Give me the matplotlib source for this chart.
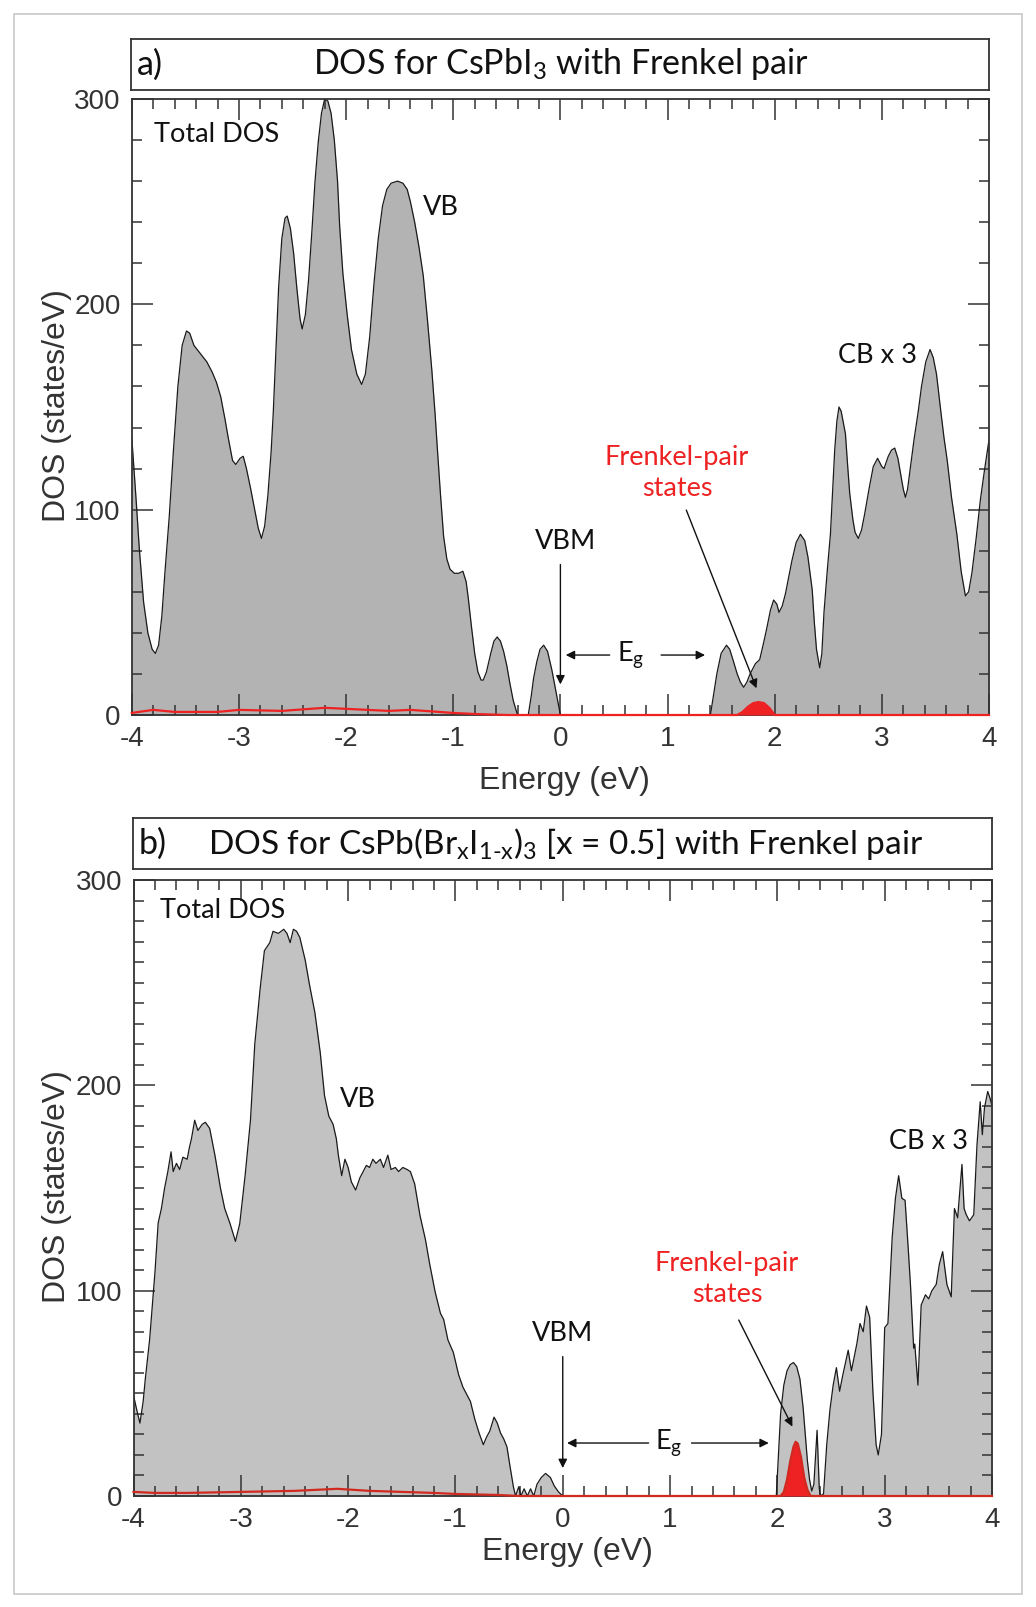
import matplotlib
matplotlib.use("Agg")
import matplotlib.pyplot as plt
from matplotlib.patches import Rectangle
from matplotlib.ticker import MultipleLocator
import numpy as np

# ---------------- data ----------------
energy_a = [-4.00, -3.96, -3.93, -3.89, -3.85, -3.81, -3.78, -3.75, -3.72, -3.69, -3.65, -3.61, -3.57, -3.53,
            -3.49, -3.46, -3.42, -3.36, -3.30, -3.25, -3.21, -3.17, -3.13, -3.10, -3.06, -3.03, -2.99, -2.96,
            -2.93, -2.89, -2.85, -2.82, -2.79, -2.76, -2.73, -2.70, -2.68, -2.655, -2.63, -2.60, -2.57, -2.55,
            -2.52, -2.49, -2.46, -2.43, -2.41, -2.38, -2.35, -2.32, -2.29, -2.26, -2.23, -2.20, -2.17, -2.14,
            -2.11, -2.08, -2.06, -2.03, -1.99, -1.95, -1.90, -1.855, -1.82, -1.78, -1.74, -1.70, -1.66, -1.62,
            -1.58, -1.52, -1.47, -1.43, -1.40, -1.36, -1.32, -1.28, -1.24, -1.20, -1.17, -1.15, -1.12, -1.09,
            -1.06, -1.03, -0.99, -0.95, -0.91, -0.88, -0.86, -0.83, -0.80, -0.77, -0.74, -0.72, -0.69, -0.65,
            -0.62, -0.59, -0.56, -0.53, -0.50, -0.47, -0.44, -0.40, -0.30, -0.27, -0.25, -0.22, -0.19, -0.156,
            -0.12, -0.08, -0.04, 0.00, 1.40, 1.43, 1.46, 1.50, 1.55, 1.58, 1.61, 1.65, 1.68, 1.71, 1.74, 1.77,
            1.82, 1.86, 1.90, 1.925, 1.96, 1.99, 2.02, 2.04, 2.07, 2.10, 2.13, 2.16, 2.20, 2.24, 2.28, 2.31,
            2.35, 2.37, 2.39, 2.42, 2.44, 2.46, 2.49, 2.52, 2.54, 2.56, 2.58, 2.60, 2.62, 2.66, 2.68, 2.70,
            2.73, 2.75, 2.78, 2.81, 2.84, 2.88, 2.92, 2.96, 3.00, 3.02, 3.06, 3.09, 3.12, 3.15, 3.17, 3.20,
            3.22, 3.24, 3.27, 3.30, 3.34, 3.37, 3.41, 3.45, 3.48, 3.51, 3.55, 3.58, 3.61, 3.65, 3.70, 3.74,
            3.78, 3.81, 3.84, 3.88, 3.92, 3.96, 4.00]
dos_a = [135, 105, 81, 55, 40, 32, 30, 34, 48, 70, 97, 130, 160, 180,
         187, 186, 180, 176, 172, 167, 162, 155, 144, 135, 124, 122, 125, 126,
         120, 110, 99, 91, 86, 92, 107, 128, 147, 178, 208, 232, 242, 243,
         237, 225, 208, 193, 188, 195, 212, 235, 260, 279, 293, 300, 299, 293,
         280, 260, 238, 215, 195, 178, 166, 161, 166, 184, 210, 232, 248, 256,
         259, 260, 259, 256, 250, 240, 228, 214, 192, 168, 147, 131, 108, 87,
         76, 71, 69, 69, 70, 65, 57, 43, 30, 21, 17, 17, 21, 30,
         36, 38, 36, 31, 24, 15, 7, 0, 0, 10, 18, 26, 32, 34,
         31, 22, 11, 0, 0, 10, 20, 30, 34, 32, 27, 20, 16, 13.5, 16, 20,
         25, 27, 36, 42, 51, 56, 54, 50, 53, 59, 67, 75, 84, 88, 85, 77,
         61, 45, 32, 23, 30, 50, 70, 88, 108, 129, 143, 150, 148, 137, 122, 108,
         95, 89, 86, 90, 98, 110, 121, 125, 121, 120, 126, 129, 130, 125, 119, 110,
         106, 110, 122, 134, 148, 160, 172, 178, 174, 166, 148, 135, 124, 106, 88, 70,
         58, 60, 69, 86, 105, 120, 134]

fp_energy_a = [-4.0, -3.8, -3.6, -3.2, -3.0, -2.6, -2.2, -2.0, -1.6, -1.4, -1.0, -0.8, -0.5, 1.65, 1.70,
               1.75, 1.80, 1.85, 1.90, 1.95, 2.00, 4.0]
fp_dos_a = [1, 2.5, 1.5, 1.5, 2.5, 2, 3.5, 3, 2, 2.5, 1, 0.5, 0, 0, 1.5,
            4.0, 5.8, 6.3, 5.8, 3.5, 0, 0]

energy_b = [-4.00, -3.97, -3.94, -3.91, -3.89, -3.85, -3.80, -3.77, -3.74, -3.71, -3.68, -3.65, -3.63, -3.60,
            -3.57, -3.54, -3.50, -3.48, -3.46, -3.43, -3.40, -3.36, -3.33, -3.29, -3.24, -3.19, -3.15, -3.10,
            -3.05, -3.01, -2.96, -2.91, -2.87, -2.82, -2.78, -2.73, -2.70, -2.65, -2.60, -2.57, -2.54, -2.51,
            -2.48, -2.45, -2.40, -2.36, -2.31, -2.26, -2.22, -2.18, -2.14, -2.11, -2.09, -2.06, -2.03, -2.00,
            -1.97, -1.93, -1.89, -1.86, -1.83, -1.80, -1.77, -1.74, -1.70, -1.67, -1.63, -1.60, -1.56, -1.53,
            -1.49, -1.45, -1.42, -1.38, -1.33, -1.28, -1.24, -1.19, -1.14, -1.11, -1.07, -1.02, -0.97, -0.93,
            -0.89, -0.86, -0.82, -0.78, -0.74, -0.71, -0.68, -0.64, -0.61, -0.58, -0.55, -0.52, -0.49, -0.46,
            -0.44, -0.41, -0.39, -0.36, -0.33, -0.30, -0.27, -0.24, -0.20, -0.16, -0.115, -0.08, -0.04, 0.00,
            1.99, 2.01, 2.03, 2.06, 2.09, 2.12, 2.15, 2.18, 2.21, 2.24, 2.26, 2.28, 2.30, 2.32, 2.34, 2.37,
            2.39, 2.40, 2.43, 2.46, 2.49, 2.52, 2.55, 2.58, 2.61, 2.66, 2.69, 2.74, 2.77, 2.80, 2.83, 2.86,
            2.89, 2.92, 2.94, 2.97, 3.00, 3.03, 3.07, 3.10, 3.13, 3.16, 3.19, 3.22, 3.24, 3.27, 3.28, 3.31,
            3.34, 3.38, 3.41, 3.44, 3.48, 3.51, 3.54, 3.58, 3.62, 3.65, 3.68, 3.72, 3.74, 3.76, 3.79, 3.83,
            3.86, 3.89, 3.91, 3.93, 3.96, 3.98, 4.00]
dos_b = [49, 42, 35.5, 46, 57, 76, 109, 133, 140, 150, 158, 167.6, 158, 162,
         159, 165, 164, 169.5, 174, 183, 178, 181, 182, 179, 165.6, 150, 140, 132.6,
         124, 132.6, 156, 183, 220, 247, 265.6, 269.5, 275, 274, 276, 274, 269.5, 276,
         275, 272, 261, 249, 235.5, 216, 195, 185, 181, 174, 165.6, 156, 164, 160,
         153, 149, 155, 158, 161, 160, 164, 162, 164, 160, 166, 159, 160, 158,
         160, 159, 158, 152, 136.5, 125, 113, 99.6, 89, 86, 76, 70, 59, 53,
         49, 46, 37.5, 30.7, 25, 28.7, 31.6, 38.4, 35.5, 30.7, 27.8, 23.9, 14, 4.5,
         0, 4.5, 0, 3.5, 0, 3.5, 0, 5.7, 9, 11, 9, 5, 2, 0,
         0, 20, 40, 54, 61, 64, 65, 63, 57, 43, 30, 17, 8, 2.4, 5.7, 32,
         4, 0, 1, 25, 42, 54, 62.5, 51, 59, 71, 61, 74, 84, 80, 92.5, 87,
         51, 25, 20, 30, 82, 84, 126, 145, 156, 145, 144, 120, 103, 72, 74, 54,
         93, 98, 96, 100, 103, 113, 119, 103, 97, 140, 135.5, 161.5, 140, 137, 134, 137,
         171, 192, 176, 189, 197, 194, 190]

fp_energy_b = [-4.0, -3.8, -3.5, -3.0, -2.5, -2.1, -1.8, -1.5, -1.2, -1.0, -0.6, -0.4, 2.03, 2.06, 2.09,
               2.12, 2.15, 2.17, 2.19, 2.22, 2.25, 2.28, 2.31, 4.0]
fp_dos_b = [2, 1.5, 1.5, 2, 2.5, 3.5, 2.5, 2, 1.5, 1, 0.5, 0, 0, 2, 8,
            17, 24, 26.4, 25.5, 19, 9, 3, 0, 0]

x_ticks = [-4, -3, -2, -1, 0, 1, 2, 3, 4]
y_ticks = [0, 100, 200, 300]

# ---------------- style ----------------
TICK_FONT = ["Liberation Sans", "DejaVu Sans"]
ANN_FONT = ["Lato", "DejaVu Sans"]
plt.rcParams["axes.unicode_minus"] = False
plt.rcParams["mathtext.fontset"] = "custom"
plt.rcParams["mathtext.rm"] = "Lato"
plt.rcParams["mathtext.it"] = "Lato:italic"
plt.rcParams["mathtext.bf"] = "Lato:bold"

RED = "#ee2222"
EDGE = "#333333"
ANN_SIZE = 19.5

fig = plt.figure(figsize=(10.36, 16.07), dpi=100)

# outer frame
fig.patches.append(Rectangle((14 / 1036, 1 - 1594 / 1607), (1022 - 14) / 1036, (1594 - 14) / 1607,
                             transform=fig.transFigure, fill=False, edgecolor="#c8c8c8", lw=1.2))


def title_box(x0, y0, x1, y1, label, text, text_x, size):
    tax = fig.add_axes([x0 / 1036, 1 - y1 / 1607, (x1 - x0) / 1036, (y1 - y0) / 1607])
    tax.set_xticks([])
    tax.set_yticks([])
    for s in tax.spines.values():
        s.set_color(EDGE)
        s.set_linewidth(1.3)
    tax.text((6) / (x1 - x0), 0.5, label, transform=tax.transAxes, ha="left", va="center",
             fontsize=24.5, family=ANN_FONT, color="#111111")
    tax.text((text_x - x0) / (x1 - x0), 0.5, text, transform=tax.transAxes, ha="center", va="center",
             fontsize=size, family=ANN_FONT, color="#111111")


def style_axes(ax, ymin_minor):
    ax.set_xlim(-4, 4)
    ax.set_ylim(0, 300)
    ax.set_xticks(x_ticks)
    ax.set_yticks(y_ticks)
    ax.xaxis.set_minor_locator(MultipleLocator(0.2))
    ax.yaxis.set_minor_locator(MultipleLocator(ymin_minor))
    ax.tick_params(which="both", direction="in", top=True, right=True, color=EDGE, width=1.1)
    ax.tick_params(which="major", length=15, pad=8, labelsize=20, labelcolor="#333333")
    ax.tick_params(which="minor", length=7.5)
    for lab in ax.get_xticklabels() + ax.get_yticklabels():
        lab.set_family(TICK_FONT)
    for s in ax.spines.values():
        s.set_color(EDGE)
        s.set_linewidth(1.3)


def ann_text(ax, x, y, s, color="#111111", ha="left", va="center"):
    ax.text(x, y, s, ha=ha, va=va, fontsize=ANN_SIZE, family=ANN_FONT, color=color, zorder=6,
            linespacing=1.3)


def arrow(ax, x0, y0, x1, y1):
    ax.annotate("", xy=(x1, y1), xytext=(x0, y0),
                arrowprops=dict(arrowstyle="-|>", lw=1.0, color="#111111", mutation_scale=13,
                                shrinkA=0, shrinkB=0), zorder=6)


def draw_fp(ax, e, d, linecolor):
    e = np.asarray(e)
    d = np.asarray(d)
    ax.fill_between(e, d, 0, where=e > 1.0, color=RED, lw=0, zorder=3)
    ax.plot(e, d, color=linecolor, lw=1.6, zorder=5, clip_on=False)


# ---------------- panel a ----------------
title_box(131, 39, 989, 90, "a)", "DOS for CsPbI$_3$ with Frenkel pair", 561, 24.5)
ax1 = fig.add_axes([131.8 / 1036, 1 - 715 / 1607, 857.2 / 1036, 616 / 1607])
ax1.fill_between(energy_a, dos_a, 0, color="#b3b3b3", lw=0, zorder=1)
ax1.plot(energy_a, dos_a, color="#1a1a1a", lw=0.9, zorder=2)
draw_fp(ax1, fp_energy_a, fp_dos_a, RED)
style_axes(ax1, 20)
ax1.set_xlabel("Energy (eV)", fontsize=23, family=TICK_FONT, color="#333333", va="center")
ax1.xaxis.set_label_coords(0.505, -0.107)
ax1.set_ylabel("DOS (states/eV)", fontsize=23, family=TICK_FONT, color="#333333", va="center")
ax1.yaxis.set_label_coords(-0.0875, 0.5016)

ann_text(ax1, -3.79, 282.5, "Total DOS")
ann_text(ax1, -1.28, 247, "VB")
ann_text(ax1, 2.59, 175, "CB x 3")
ann_text(ax1, 1.088, 118, "Frenkel-pair\nstates", color=RED, ha="center")
arrow(ax1, 1.175, 99.8, 1.83, 13)
ann_text(ax1, 0.05, 84.7, "VBM", ha="center")
arrow(ax1, 0.0, 73.3, 0.0, 14.9)
ann_text(ax1, 0.66, 29.2, "E$_\\mathrm{g}$", ha="center")
arrow(ax1, 0.46, 29.2, 0.05, 29.2)
arrow(ax1, 0.94, 29.2, 1.35, 29.2)

# ---------------- panel b ----------------
title_box(133, 818, 992, 869, "b)",
          "DOS for CsPb(Br$_\\mathrm{x}$I$_\\mathrm{1\\text{-}x}$)$_3$ [x = 0.5] with Frenkel pair", 566, 24)
ax2 = fig.add_axes([133.5 / 1036, 1 - 1496 / 1607, 858.5 / 1036, 616 / 1607])
ax2.fill_between(energy_b, dos_b, 0, color="#c2c2c2", lw=0, zorder=1)
ax2.plot(energy_b, dos_b, color="#1a1a1a", lw=0.9, zorder=2)
draw_fp(ax2, fp_energy_b, fp_dos_b, "#d02a20")
style_axes(ax2, 10)
ax2.set_xlabel("Energy (eV)", fontsize=23, family=TICK_FONT, color="#333333", va="center")
ax2.xaxis.set_label_coords(0.505, -0.091)
ax2.set_ylabel("DOS (states/eV)", fontsize=23, family=TICK_FONT, color="#333333", va="center")
ax2.yaxis.set_label_coords(-0.0895, 0.5016)

ann_text(ax2, -3.75, 285, "Total DOS")
ann_text(ax2, -2.08, 193, "VB")
ann_text(ax2, 3.04, 172.6, "CB x 3")
ann_text(ax2, 1.53, 105.5, "Frenkel-pair\nstates", color=RED, ha="center")
arrow(ax2, 1.64, 85.7, 2.14, 33.8)
ann_text(ax2, 0.0, 79, "VBM", ha="center")
arrow(ax2, 0.0, 67.9, 0.0, 13.6)
ann_text(ax2, 0.985, 25.8, "E$_\\mathrm{g}$", ha="center")
arrow(ax2, 0.80, 25.8, 0.04, 25.8)
arrow(ax2, 1.20, 25.8, 1.92, 25.8)

fig.savefig("out.png", dpi=100)
